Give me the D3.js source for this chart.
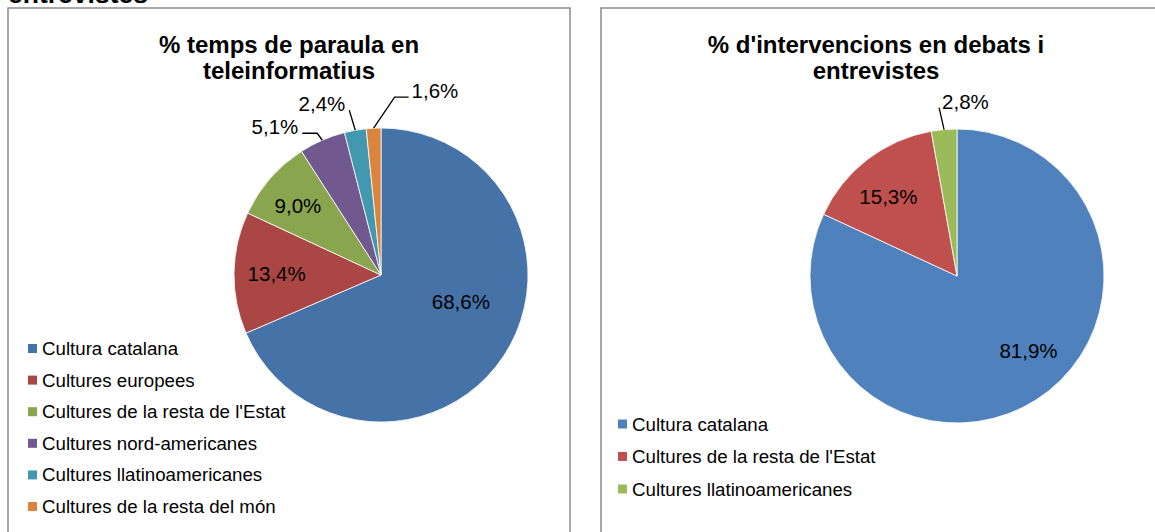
<!DOCTYPE html>
<html><head><meta charset="utf-8">
<script src="https://cdn.jsdelivr.net/npm/d3@7"></script>
<style>
html,body{margin:0;padding:0;background:#fff;}
svg{display:block;font-family:Arial,"Liberation Sans",sans-serif;}
</style></head>
<body>
<svg id="c" width="1155" height="532"></svg>
<script>
// ---- Data ----
const pageHeading = "entrevistes";

const title1 = ["% temps de paraula en", "teleinformatius"];
const categories1 = ["Cultura catalana", "Cultures europees", "Cultures de la resta de l'Estat",
  "Cultures nord-americanes", "Cultures llatinoamericanes", "Cultures de la resta del món"];
const values1 = [68.6, 13.4, 9.0, 5.1, 2.4, 1.6];
const labels1 = ["68,6%", "13,4%", "9,0%", "5,1%", "2,4%", "1,6%"];

const title2 = ["% d'intervencions en debats i", "entrevistes"];
const categories2 = ["Cultura catalana", "Cultures de la resta de l'Estat", "Cultures llatinoamericanes"];
const values2 = [81.9, 15.3, 2.8];
const labels2 = ["81,9%", "15,3%", "2,8%"];

// ---- Styles / layout ----
const colors1 = ["#4572A7", "#AA4643", "#89A54E", "#71588F", "#4198AF", "#DB843D"];
const colors2 = ["#4F81BD", "#C0504D", "#9BBB59"];

// label placement: inside labels -> {r: fraction of radius, dx, dy}; outside -> {out:true, ex, ey, tail, anchor}
const place1 = [
  {r: 0.52, dx: 16, dy: -15},
  {r: 0.71, dx: 0, dy: 0},
  {r: 0.75, dx: 0, dy: 3},
  {out: true, ex: -5, ey: -7, tail: -15, anchor: "end"},
  {out: true, ex: -6, ey: -20, tail: 0, anchor: "end"},
  {out: true, ex: 21, ey: -31, tail: 14, anchor: "start"}
];
const place2 = [
  {r: 0.6, dx: 24, dy: 1},
  {r: 0.72, dx: -4, dy: 5},
  {out: true, ex: -5, ey: -22, tail: 0, anchor: "start"}
];

const svg = d3.select("#c");

// page heading (cut off at top of the picture)
svg.append("text").attr("x", 8).attr("y", 3)
  .attr("font-size", 26.5).attr("font-weight", "bold").attr("fill", "#000")
  .text(pageHeading);

function drawPanel(cfg) {
  const g = svg.append("g");
  g.append("rect").attr("x", cfg.box[0]).attr("y", cfg.box[1])
    .attr("width", cfg.box[2]).attr("height", cfg.box[3])
    .attr("fill", "#fff").attr("stroke", "#8c8c8c").attr("stroke-width", 1.5);

  cfg.title.forEach((t, i) => {
    g.append("text").attr("x", cfg.titleX).attr("y", cfg.titleY + i * cfg.titleLH)
      .attr("text-anchor", "middle").attr("font-size", cfg.titleSize).attr("font-weight", "bold")
      .attr("fill", "#000").text(t);
  });

  const pie = d3.pie().sort(null).value(d => d)(cfg.values);
  const R = cfg.radius;
  const arc = d3.arc().innerRadius(0).outerRadius(R);
  const pg = g.append("g").attr("transform", `translate(${cfg.cx},${cfg.cy})`);
  pg.selectAll("path").data(pie).join("path")
    .attr("d", arc)
    .attr("fill", (d, i) => cfg.colors[i])
    .attr("stroke", "#fff").attr("stroke-width", 0.8);

  pie.forEach((d, i) => {
    const p = cfg.place[i];
    const mid = (d.startAngle + d.endAngle) / 2;
    if (!p.out) {
      const rr = R * p.r;
      const x = Math.sin(mid) * rr + p.dx;
      const y = -Math.cos(mid) * rr + p.dy;
      pg.append("text").attr("x", x).attr("y", y).attr("dy", "0.35em")
        .attr("text-anchor", "middle").attr("font-size", cfg.labelSize).attr("fill", "#000")
        .text(cfg.labels[i]);
    } else {
      const ax = Math.sin(mid) * R, ay = -Math.cos(mid) * R;
      const exx = ax + p.ex, eyy = ay + p.ey;
      const tx = exx + p.tail;
      pg.append("path")
        .attr("d", `M${ax},${ay}L${exx},${eyy}L${tx},${eyy}`)
        .attr("fill", "none").attr("stroke", "#000").attr("stroke-width", 1.3);
      pg.append("text")
        .attr("x", tx + (p.anchor === "end" ? -4 : 3))
        .attr("y", eyy + 1)
        .attr("text-anchor", p.anchor).attr("font-size", cfg.labelSize).attr("fill", "#000")
        .text(cfg.labels[i]);
    }
  });

  const lg = g.append("g");
  cfg.categories.forEach((c, i) => {
    const y = cfg.legendY + i * cfg.legendStep;
    lg.append("rect").attr("x", cfg.legendX).attr("y", y - 4.5).attr("width", 9).attr("height", 9)
      .attr("fill", cfg.colors[i]);
    lg.append("text").attr("x", cfg.legendX + 14).attr("y", y).attr("dy", "0.35em")
      .attr("font-size", cfg.legendSize).attr("fill", "#000").text(c);
  });
}

drawPanel({
  box: [8, 8, 562, 540], title: title1, titleX: 289, titleY: 53, titleLH: 26, titleSize: 24,
  values: values1, labels: labels1, colors: colors1, categories: categories1, place: place1,
  cx: 381, cy: 275, radius: 147, labelSize: 20.5,
  legendX: 28, legendY: 348.5, legendStep: 31.6, legendSize: 18.7
});
drawPanel({
  box: [601, 8, 600, 540], title: title2, titleX: 876, titleY: 53, titleLH: 26, titleSize: 24,
  values: values2, labels: labels2, colors: colors2, categories: categories2, place: place2,
  cx: 957, cy: 276, radius: 147, labelSize: 20.5,
  legendX: 618, legendY: 424, legendStep: 32.5, legendSize: 18.7
});
</script>
</body></html>
